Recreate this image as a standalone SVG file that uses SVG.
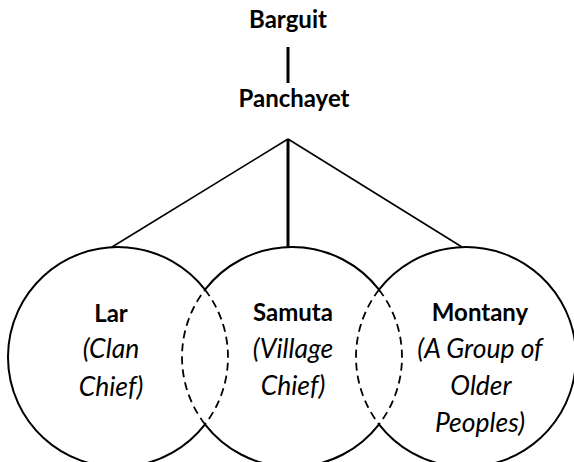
<svg xmlns="http://www.w3.org/2000/svg" width="574" height="462" viewBox="0 0 574 462">
<style>
.b{font-family:Lato,"Open Sans",sans-serif;font-weight:bold;font-size:24px;fill:#000;text-anchor:middle}
.i{font-family:Lato,"Open Sans",sans-serif;font-style:italic;font-size:26.5px;fill:#000;text-anchor:middle}
.s{fill:none;stroke:#000;stroke-width:2}
.d{fill:none;stroke:#000;stroke-width:1.8;stroke-dasharray:8 5}
.c{fill:none;stroke:#000;stroke-width:1.6}
.v{fill:none;stroke:#000;stroke-width:3}
</style>
<rect width="574" height="462" fill="#fff"/>
<g id="connectors">
<line class="v" x1="288" y1="47" x2="288" y2="83"/>
<line class="c" x1="288" y1="139" x2="112" y2="247"/>
<line class="v" x1="288" y1="139" x2="288" y2="247"/>
<line class="c" x1="288" y1="139" x2="462" y2="247"/>
</g>
<g id="barguit"><text class="b" x="288" y="28">Barguit</text></g>
<g id="panchayet"><text class="b" x="294" y="107">Panchayet</text></g>
<g id="lar">
<path class="s" d="M205,289.7 A110,110 0 1 0 205,424.3"/>
<path class="d" d="M205,289.7 A110,110 0 0 1 205,424.3"/>
<text class="b" x="111" y="322">Lar</text>
<text class="i" x="111" y="358">(Clan</text>
<text class="i" x="111" y="396">Chief)</text>
</g>
<g id="samuta">
<path class="s" d="M205,289.7 A110,110 0 0 1 379,289.7"/>
<path class="s" d="M379,424.3 A110,110 0 0 1 205,424.3"/>
<path class="d" d="M205,424.3 A110,110 0 0 1 205,289.7"/>
<path class="d" d="M379,289.7 A110,110 0 0 1 379,424.3"/>
<text class="b" x="293" y="321">Samuta</text>
<text class="i" x="293" y="358">(Village</text>
<text class="i" x="293" y="395">Chief)</text>
</g>
<g id="montany">
<path class="s" d="M379,424.3 A110,110 0 1 0 379,289.7"/>
<path class="d" d="M379,289.7 A110,110 0 0 0 379,424.3"/>
<text class="b" x="480" y="321">Montany</text>
<text class="i" x="480" y="358">(A Group of</text>
<text class="i" x="481" y="395">Older</text>
<text class="i" x="480" y="432">Peoples)</text>
</g>
</svg>
